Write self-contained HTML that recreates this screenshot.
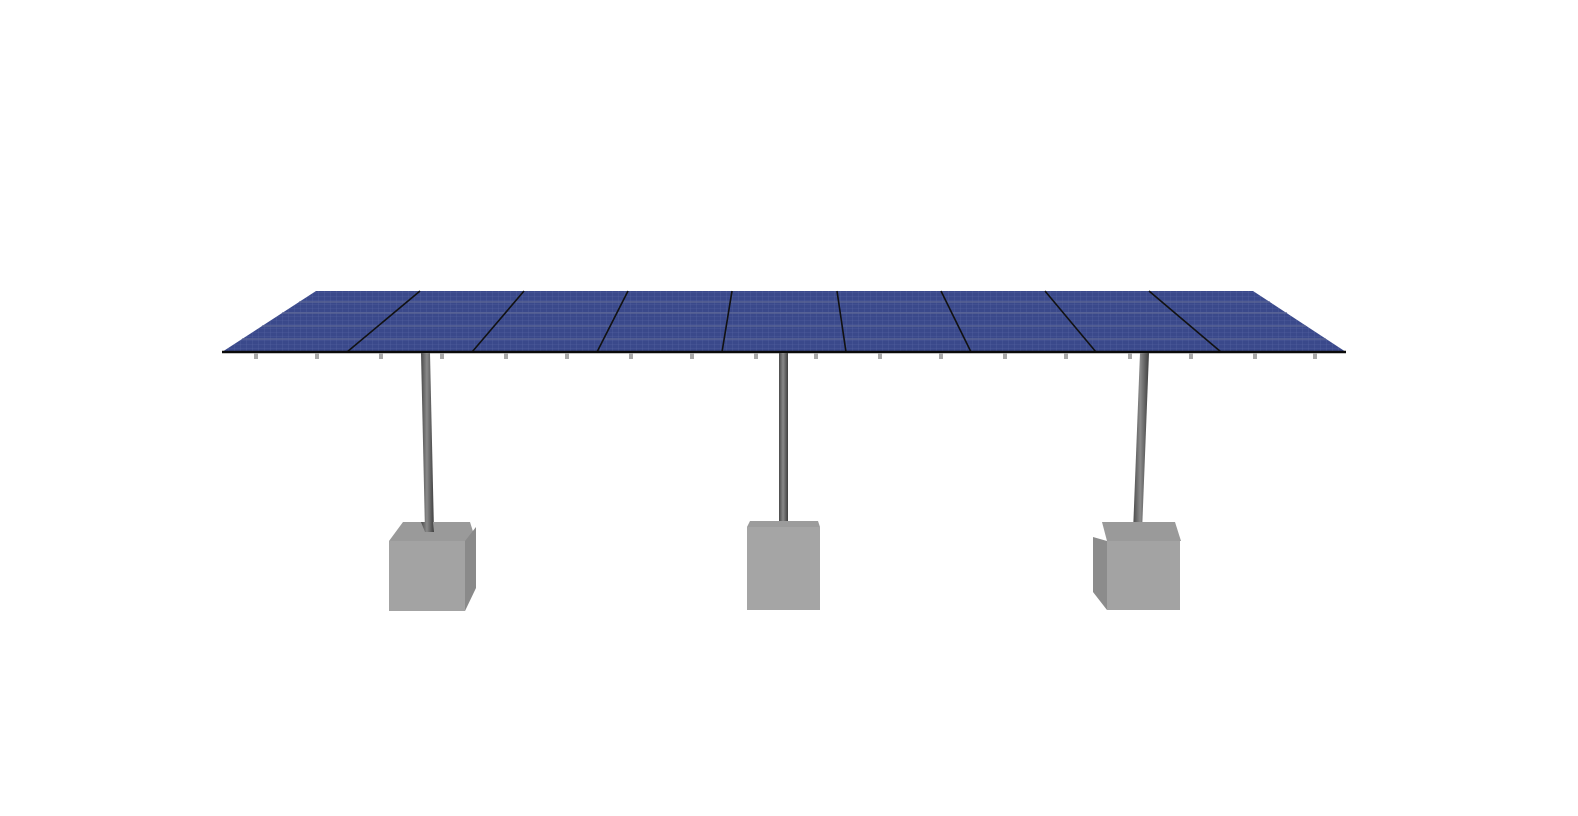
<!DOCTYPE html>
<html><head><meta charset="utf-8"><style>
html,body{margin:0;padding:0;background:#fff;}
svg{display:block;}
</style></head><body>
<svg width="1578" height="816" viewBox="0 0 1578 816" xmlns="http://www.w3.org/2000/svg">
<defs>
<linearGradient id="pole" x1="0" x2="1" y1="0" y2="0">
<stop offset="0" stop-color="#4a4a4a"/><stop offset="0.45" stop-color="#8a8a8a"/><stop offset="1" stop-color="#3e3e3e"/>
</linearGradient>
<pattern id="grid" width="6" height="4" patternUnits="userSpaceOnUse">
<rect width="6" height="4" fill="#3a498b"/>
<path d="M0 0H6M0 0V4" stroke="#5866a4" stroke-width="0.6"/>
</pattern>
</defs>
<polygon points="316,291 1253,291 1346,352 222,352" fill="url(#grid)"/>
<g stroke="#5e6795" stroke-width="1.3">
<line x1="299" y1="302" x2="1270" y2="302"/>
<line x1="282" y1="313" x2="1287" y2="313"/>
<line x1="262" y1="326" x2="1306" y2="326"/>
<line x1="242" y1="339" x2="1326" y2="339"/>
</g>
<g stroke="#111" stroke-width="1.6">
<line x1="420" y1="291" x2="347" y2="352"/>
<line x1="524" y1="291" x2="472" y2="352"/>
<line x1="628" y1="291" x2="597" y2="352"/>
<line x1="732" y1="291" x2="722" y2="352"/>
<line x1="837" y1="291" x2="846" y2="352"/>
<line x1="941" y1="291" x2="971" y2="352"/>
<line x1="1045" y1="291" x2="1096" y2="352"/>
<line x1="1149" y1="291" x2="1221" y2="352"/>
</g>
<line x1="222" y1="352" x2="1346" y2="352" stroke="#0a0a0a" stroke-width="2.5"/>
<g fill="#a9a9a9">
<rect x="254" y="353" width="4" height="6"/><rect x="315" y="353" width="4" height="6"/>
<rect x="379" y="353" width="4" height="6"/><rect x="440" y="353" width="4" height="6"/>
<rect x="504" y="353" width="4" height="6"/><rect x="565" y="353" width="4" height="6"/>
<rect x="629" y="353" width="4" height="6"/><rect x="690" y="353" width="4" height="6"/>
<rect x="754" y="353" width="4" height="6"/><rect x="814" y="353" width="4" height="6"/>
<rect x="878" y="353" width="4" height="6"/><rect x="939" y="353" width="4" height="6"/>
<rect x="1003" y="353" width="4" height="6"/><rect x="1064" y="353" width="4" height="6"/>
<rect x="1128" y="353" width="4" height="6"/><rect x="1189" y="353" width="4" height="6"/>
<rect x="1253" y="353" width="4" height="6"/><rect x="1313" y="353" width="4" height="6"/>
</g>
<polygon points="421,353 430,353 434,532 425,532" fill="url(#pole)"/>
<polygon points="779,353 788,353 788,532 779,532" fill="url(#pole)"/>
<polygon points="1140,353 1149,353 1142,532 1133,532" fill="url(#pole)"/>
<polygon points="403,522 470,522 476,541 389,541" fill="#9a9a9a"/>
<polygon points="465,541 476,527 476,588 465,611" fill="#8a8a8a"/>
<rect x="389" y="541" width="76" height="70" fill="#a3a3a3"/>
<polygon points="421,522 433,522 434,532 425,532" fill="url(#pole)"/>
<polygon points="750,521 818,521 820,527 747,527" fill="#9c9c9c"/>
<rect x="747" y="527" width="73" height="83" fill="#a5a5a5"/>
<polygon points="1102,522 1175,522 1181,541 1107,541" fill="#9a9a9a"/>
<polygon points="1093,537 1107,541 1107,610 1093,592" fill="#8c8c8c"/>
<rect x="1107" y="541" width="73" height="69" fill="#a3a3a3"/>
</svg>
</body></html>
